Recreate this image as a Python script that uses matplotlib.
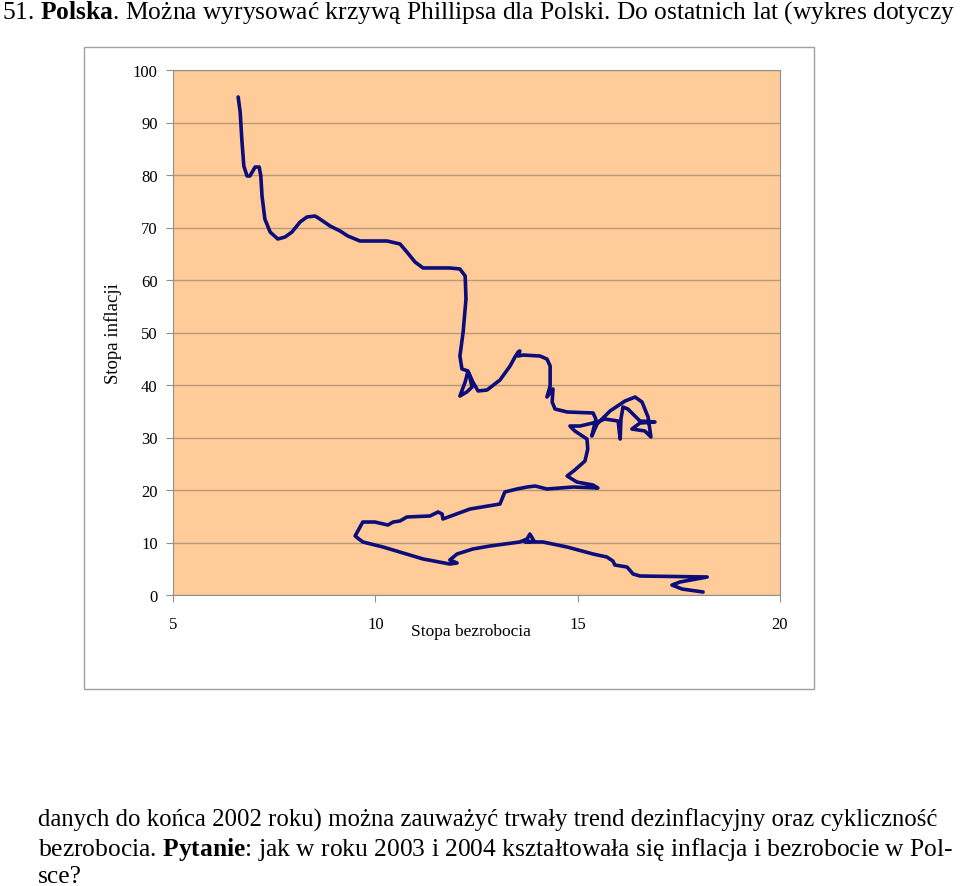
import numpy as np
import matplotlib.pyplot as plt
from matplotlib.patches import Rectangle

plt.rcParams['font.family'] = ['Liberation Serif', 'DejaVu Serif']
plt.rcParams['mathtext.fontset'] = 'custom'
plt.rcParams['mathtext.rm'] = 'Liberation Serif'
plt.rcParams['mathtext.bf'] = 'Liberation Serif:bold'

# stopa bezrobocia (%) i stopa inflacji (%)
bezrobocie = [6.61, 6.66, 6.70, 6.75, 6.83, 6.90, 7.03, 7.13, 7.17, 7.20,
              7.27, 7.40, 7.59, 7.77, 7.94, 8.14, 8.31, 8.51, 8.63, 8.88,
              9.13, 9.32, 9.62, 10.29, 10.61, 10.78, 10.98, 11.18, 11.84, 12.09,
              12.22, 12.24, 12.17, 12.09, 12.14, 12.29, 12.22, 12.09, 12.26, 12.39,
              12.31, 12.41, 12.54, 12.76, 13.08, 13.33, 13.45, 13.53, 13.57, 13.53,
              13.65, 14.07, 14.24, 14.32, 14.32, 14.24, 14.39, 14.37, 14.44, 14.74,
              15.38, 15.45, 15.35, 15.48, 15.80, 16.17, 16.42, 16.59, 16.74, 16.81,
              16.66, 16.34, 16.54, 16.91, 16.54, 16.24, 16.12, 16.07, 16.05, 16.00,
              15.67, 15.48, 15.06, 14.81, 14.93, 15.23, 15.25, 15.18, 14.93, 14.74,
              14.98, 15.38, 15.50, 14.89, 14.24, 13.95, 13.75, 13.50, 13.20, 13.15,
              13.08, 12.34, 11.67, 11.65, 11.55, 11.35, 10.78, 10.61, 10.44, 10.31,
              9.99, 9.69, 9.50, 9.69, 10.19, 11.18, 11.84, 12.02, 11.84, 12.02,
              12.41, 12.83, 13.57, 13.75, 13.82, 13.92, 13.70, 14.14, 14.74, 15.38,
              15.72, 15.87, 15.92, 16.22, 16.37, 16.54, 18.20, 17.53, 17.33, 17.58,
              18.10]
inflacja = [94.86, 92.0, 86.86, 81.71, 79.81, 79.81, 81.52, 81.52, 79.81, 76.0,
            71.62, 69.14, 67.81, 68.19, 69.14, 71.05, 72.0, 72.19, 71.62, 70.29,
            69.33, 68.38, 67.43, 67.43, 66.86, 65.33, 63.43, 62.29, 62.29, 62.10,
            60.76, 56.38, 50.10, 45.52, 43.05, 42.67, 40.57, 37.90, 38.67, 39.62,
            42.29, 40.57, 38.86, 39.05, 40.95, 43.62, 45.33, 46.29, 46.48, 45.52,
            45.71, 45.52, 44.95, 43.62, 39.81, 37.71, 39.24, 36.76, 35.43, 34.86,
            34.67, 33.52, 30.29, 32.57, 35.05, 36.95, 37.71, 36.76, 33.90, 30.10,
            31.24, 31.62, 32.76, 32.95, 33.14, 35.43, 35.81, 33.52, 29.71, 33.14,
            33.52, 32.95, 32.19, 32.19, 31.24, 29.71, 27.81, 25.52, 23.81, 22.67,
            21.52, 20.95, 20.38, 20.57, 20.19, 20.76, 20.57, 20.19, 19.62, 18.67,
            17.33, 16.38, 14.48, 15.43, 15.81, 15.05, 14.86, 14.10, 13.90, 13.33,
            13.90, 13.90, 11.24, 10.10, 9.14, 6.86, 5.90, 6.10, 6.67, 7.81,
            8.76, 9.33, 10.10, 10.67, 11.62, 10.29, 10.10, 10.10, 9.14, 7.81,
            7.24, 6.48, 5.71, 5.33, 4.0, 3.62, 3.43, 2.48, 1.90, 1.14,
            0.57]

xticks = [5, 10, 15, 20]
yticks = [0, 10, 20, 30, 40, 50, 60, 70, 80, 90, 100]

fig = plt.figure(figsize=(9.6, 8.87), dpi=100)

# ramka obszaru wykresu
fig.patches.append(Rectangle((84/960, 1-690/887), 730/960, 642/887,
                             transform=fig.transFigure, fill=False,
                             edgecolor='#a0a0a0', lw=1))

ax = fig.add_axes([173/960, 1-596/887, 607/960, 525/887])
ax.set_facecolor('#ffcc99')
ax.plot(bezrobocie, inflacja, color='#0c0c7a', lw=2.6,
        solid_joinstyle='round', solid_capstyle='round')
ax.set_xlim(5, 20)
ax.set_ylim(0, 100)
ax.set_xticks(xticks)
ax.set_yticks(yticks)
ax.grid(axis='y', color='#b89878', lw=1)
ax.set_axisbelow(True)
for s in ax.spines.values():
    s.set_color('#909090')
ax.tick_params(axis='both', colors='#909090', labelcolor='black',
               labelsize=12, length=5, direction='out')
ax.tick_params(axis='x', pad=10)
ax.tick_params(axis='y', pad=6)

fig.text(113/960, 1-334/887, 'Stopa inflacji', rotation=90,
         ha='center', va='center', fontsize=13.5)
fig.text(471/960, 1-632/887, 'Stopa bezrobocia', ha='center',
         va='center', fontsize=12.5)

fs = 18.4
fig.text(2/960, 1-13/887,
         '51. $\\bf{Polska}$. Można wyrysować krzywą Phillipsa dla Polski. '
         'Do ostatnich lat (wykres dotyczy', ha='left', va='center', fontsize=fs)
fig.text(38/960, 1-820/887,
         'danych do końca 2002 roku) można zauważyć trwały trend '
         'dezinflacyjny oraz cykliczność', ha='left', va='center', fontsize=17.8)
fig.text(38/960, 1-850/887,
         'bezrobocia. $\\bf{Pytanie}$: jak w roku 2003 i 2004 kształtowała '
         'się inflacja i bezrobocie w Pol-', ha='left', va='center', fontsize=fs)
fig.text(38/960, 1-877/887, 'sce?', ha='left', va='center', fontsize=fs)

fig.savefig('out.png', dpi=100)
